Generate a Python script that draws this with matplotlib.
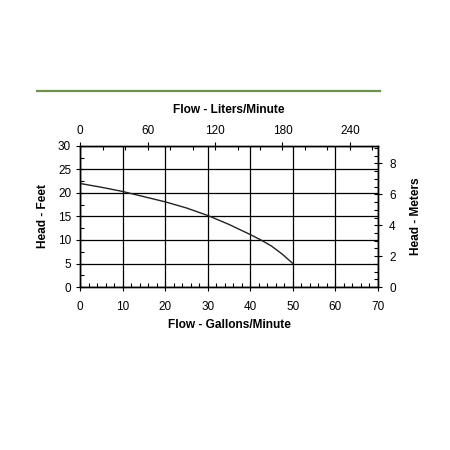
import matplotlib
matplotlib.use("Agg")
import matplotlib.pyplot as plt
from matplotlib.lines import Line2D
from matplotlib.ticker import MultipleLocator

plt.rcParams["font.family"] = ["Liberation Sans", "DejaVu Sans"]

# pump curve
flow_gpm = [0, 5, 10, 15, 20, 25, 30, 35, 40, 42.5, 45, 47.5, 50]
head_ft = [22.0, 21.2, 20.3, 19.2, 18.1, 16.8, 15.2, 13.3, 11.15, 10.0, 8.7, 7.0, 5.0]

GAL_TO_L = 3.785
FT_TO_M = 0.3048

fig = plt.figure(figsize=(4.5, 4.5), dpi=100)
ax = fig.add_axes([0.178, 0.362, 0.662, 0.314])

ax.plot(flow_gpm, head_ft, color="#222222", lw=1.0)
ax.set_xlim(0, 70)
ax.set_ylim(0, 30)
ax.xaxis.set_major_locator(MultipleLocator(10))
ax.xaxis.set_minor_locator(MultipleLocator(2))
ax.yaxis.set_major_locator(MultipleLocator(5))
ax.yaxis.set_minor_locator(MultipleLocator(2.5))
ax.grid(True, which="major", color="black", lw=0.9)
ax.tick_params(which="major", direction="inout", length=6, width=0.8, labelsize=8.5, colors="black")
ax.tick_params(axis="x", which="major", pad=7)
ax.tick_params(which="minor", direction="in", length=3, width=0.8)
ax.set_xlabel("Flow - Gallons/Minute", fontsize=8.6, fontweight="bold", labelpad=4)
ax.set_ylabel("Head - Feet", fontsize=8.6, fontweight="bold", labelpad=6)

# liters on top
ax_top = ax.twiny()
ax_top.set_xlim(0, 70 * GAL_TO_L)
ax_top.xaxis.set_major_locator(MultipleLocator(60))
ax_top.xaxis.set_minor_locator(MultipleLocator(20))
ax_top.tick_params(which="major", direction="inout", length=6, width=0.8, labelsize=8.5, pad=3)
ax_top.tick_params(which="minor", direction="in", length=3, width=0.8)
ax_top.set_xlabel("Flow - Liters/Minute", fontsize=8.6, fontweight="bold", labelpad=9)

# meters on right
ax_r = ax.twinx()
ax_r.set_ylim(0, 30 * FT_TO_M)
ax_r.yaxis.set_major_locator(MultipleLocator(2))
ax_r.yaxis.set_minor_locator(MultipleLocator(0.5))
ax_r.tick_params(which="major", direction="inout", length=6, width=0.8, labelsize=8.5, pad=5)
ax_r.tick_params(which="minor", direction="in", length=3, width=0.8)
ax_r.set_ylabel("Head - Meters", fontsize=8.6, fontweight="bold", labelpad=10)

for a in (ax, ax_top, ax_r):
    for s in a.spines.values():
        s.set_linewidth(0.9)

# green rule at the top
fig.add_artist(Line2D([0.082, 0.845], [0.798, 0.798], color="#6f9150", lw=1.6,
                      transform=fig.transFigure))

fig.savefig("out.png", dpi=100, facecolor="white")
